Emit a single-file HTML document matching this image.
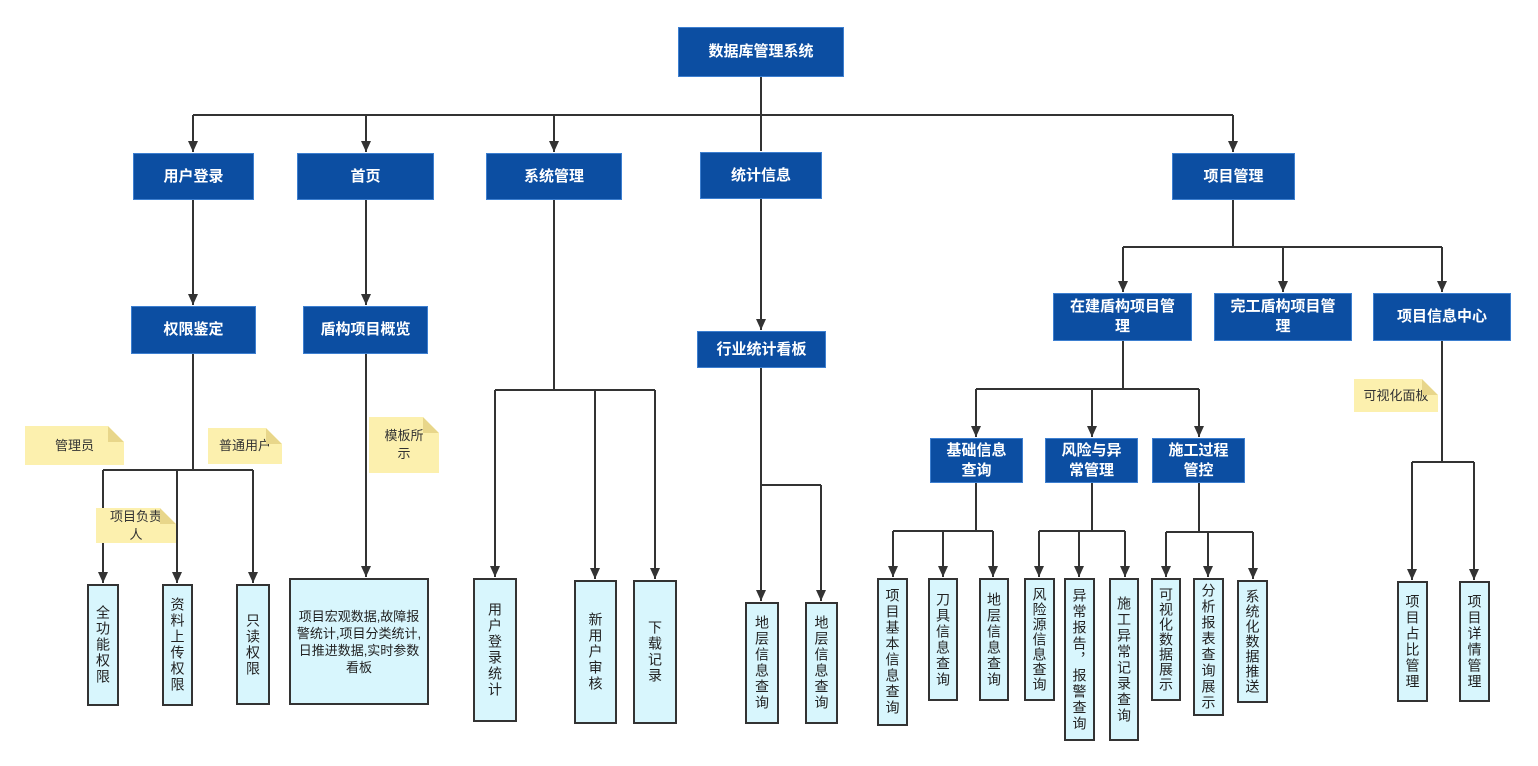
<!DOCTYPE html>
<html><head><meta charset="utf-8"><style>
body{margin:0;width:1538px;height:766px;background:#fff;position:relative;overflow:hidden;font-family:"Liberation Sans","Noto Sans CJK SC",sans-serif}
.b{position:absolute;background:#0c4ea2;color:#fff;font-size:15px;font-weight:bold;display:flex;align-items:center;justify-content:center;text-align:center;line-height:20px;box-sizing:border-box;border:1px solid #3d7fd0}
.l{position:absolute;background:#d8f6fd;border:2px solid #333;box-sizing:border-box;color:#222;font-size:14px;display:flex;align-items:center;justify-content:center}
.v{writing-mode:vertical-rl;line-height:16px;letter-spacing:2px;white-space:nowrap}
.n{position:absolute;background:#fcf0ae;color:#333;font-size:13px;display:flex;align-items:center;justify-content:center;text-align:center;line-height:18px;clip-path:polygon(0 0,calc(100% - 16px) 0,100% 16px,100% 100%,0 100%)}
.n:after{content:"";position:absolute;right:0;top:0;width:16px;height:16px;background:#e8d68a;clip-path:polygon(0 0,0 100%,100% 100%)}
svg{position:absolute;left:0;top:0}
</style></head><body>
<svg width="1538" height="766">
<defs><marker id="a" markerWidth="12" markerHeight="12" refX="11" refY="5" orient="auto" markerUnits="userSpaceOnUse"><path d="M0,0 L11,5 L0,10 z" fill="#333"/></marker></defs>
<g stroke="#333" stroke-width="2" fill="none">
<path d="M761,76V115M193,115H1233M761,115V151"/>
<path d="M193,115V152" marker-end="url(#a)"/>
<path d="M366,115V152" marker-end="url(#a)"/>
<path d="M554,115V152" marker-end="url(#a)"/>
<path d="M1233,115V152" marker-end="url(#a)"/>
<path d="M193,200V305" marker-end="url(#a)"/>
<path d="M366,200V305" marker-end="url(#a)"/>
<path d="M761,199V330" marker-end="url(#a)"/>
<path d="M366,354V577" marker-end="url(#a)"/>
<path d="M193,354V470M103,470H253"/>
<path d="M103,470V583" marker-end="url(#a)"/>
<path d="M177,470V583" marker-end="url(#a)"/>
<path d="M253,470V583" marker-end="url(#a)"/>
<path d="M554,200V390M495,390H655"/>
<path d="M495,390V577" marker-end="url(#a)"/>
<path d="M595,390V579" marker-end="url(#a)"/>
<path d="M655,390V579" marker-end="url(#a)"/>
<path d="M761,368V485H821"/>
<path d="M761,485V601" marker-end="url(#a)"/>
<path d="M821,485V601" marker-end="url(#a)"/>
<path d="M1233,200V247M1123,247H1442"/>
<path d="M1123,247V292" marker-end="url(#a)"/>
<path d="M1283,247V292" marker-end="url(#a)"/>
<path d="M1442,247V292" marker-end="url(#a)"/>
<path d="M1123,341V389M976,389H1199"/>
<path d="M976,389V437" marker-end="url(#a)"/>
<path d="M1092,389V437" marker-end="url(#a)"/>
<path d="M1199,389V437" marker-end="url(#a)"/>
<path d="M1442,341V462M1412,462H1474"/>
<path d="M1412,462V580" marker-end="url(#a)"/>
<path d="M1474,462V580" marker-end="url(#a)"/>
<path d="M976,483V531M893,531H993M1092,483V531M1039,531H1125M1199,483V532M1166,532H1253"/>
<path d="M893,531V577" marker-end="url(#a)"/>
<path d="M943,531V577" marker-end="url(#a)"/>
<path d="M993,531V577" marker-end="url(#a)"/>
<path d="M1039,531V577" marker-end="url(#a)"/>
<path d="M1079,531V577" marker-end="url(#a)"/>
<path d="M1125,531V577" marker-end="url(#a)"/>
<path d="M1166,532V577" marker-end="url(#a)"/>
<path d="M1208,532V577" marker-end="url(#a)"/>
<path d="M1253,532V579" marker-end="url(#a)"/>
</g></svg>
<div class="b" style="left:678px;top:27px;width:166px;height:50px">数据库管理系统</div>
<div class="b" style="left:133px;top:153px;width:121px;height:47px">用户登录</div>
<div class="b" style="left:297px;top:153px;width:137px;height:47px">首页</div>
<div class="b" style="left:486px;top:153px;width:136px;height:47px">系统管理</div>
<div class="b" style="left:700px;top:152px;width:122px;height:47px">统计信息</div>
<div class="b" style="left:1172px;top:153px;width:123px;height:47px">项目管理</div>
<div class="b" style="left:131px;top:306px;width:125px;height:48px">权限鉴定</div>
<div class="b" style="left:303px;top:306px;width:125px;height:48px">盾构项目概览</div>
<div class="b" style="left:697px;top:331px;width:129px;height:37px">行业统计看板</div>
<div class="b" style="left:1053px;top:293px;width:139px;height:48px;padding:0 10px">在建盾构项目管理</div>
<div class="b" style="left:1214px;top:293px;width:138px;height:48px;padding:0 10px">完工盾构项目管理</div>
<div class="b" style="left:1373px;top:293px;width:138px;height:48px">项目信息中心</div>
<div class="b" style="left:930px;top:438px;width:93px;height:45px;padding:0 12px">基础信息查询</div>
<div class="b" style="left:1045px;top:438px;width:93px;height:45px;padding:0 12px">风险与异常管理</div>
<div class="b" style="left:1152px;top:438px;width:93px;height:45px;padding:0 12px">施工过程管控</div>

<div class="l" style="left:87px;top:584px;width:32px;height:122px"><span class="v">全功能权限</span></div>
<div class="l" style="left:162px;top:584px;width:31px;height:122px"><span class="v">资料上传权限</span></div>
<div class="l" style="left:236px;top:584px;width:34px;height:121px"><span class="v">只读权限</span></div>
<div class="l" style="left:289px;top:578px;width:140px;height:127px;font-size:13px;text-align:center;line-height:17px;padding:0 3px">项目宏观数据,故障报警统计,项目分类统计,日推进数据,实时参数看板</div>
<div class="l" style="left:473px;top:578px;width:44px;height:144px"><span class="v">用户登录统计</span></div>
<div class="l" style="left:574px;top:580px;width:43px;height:144px"><span class="v">新用户审核</span></div>
<div class="l" style="left:633px;top:580px;width:44px;height:144px"><span class="v">下载记录</span></div>
<div class="l" style="left:745px;top:602px;width:34px;height:122px"><span class="v">地层信息查询</span></div>
<div class="l" style="left:805px;top:602px;width:33px;height:122px"><span class="v">地层信息查询</span></div>
<div class="l" style="left:877px;top:578px;width:31px;height:148px"><span class="v">项目基本信息查询</span></div>
<div class="l" style="left:928px;top:578px;width:30px;height:123px"><span class="v">刀具信息查询</span></div>
<div class="l" style="left:979px;top:578px;width:30px;height:123px"><span class="v">地层信息查询</span></div>
<div class="l" style="left:1024px;top:578px;width:31px;height:123px"><span class="v" style="letter-spacing:1px">风险源信息查询</span></div>
<div class="l" style="left:1064px;top:578px;width:31px;height:163px"><span class="v">异常报告，报警查询</span></div>
<div class="l" style="left:1109px;top:578px;width:30px;height:163px"><span class="v">施工异常记录查询</span></div>
<div class="l" style="left:1151px;top:578px;width:30px;height:123px"><span class="v" style="letter-spacing:1px">可视化数据展示</span></div>
<div class="l" style="left:1193px;top:578px;width:31px;height:138px"><span class="v">分析报表查询展示</span></div>
<div class="l" style="left:1237px;top:580px;width:31px;height:123px"><span class="v" style="letter-spacing:1px">系统化数据推送</span></div>
<div class="l" style="left:1397px;top:581px;width:31px;height:121px"><span class="v">项目占比管理</span></div>
<div class="l" style="left:1459px;top:581px;width:31px;height:121px"><span class="v">项目详情管理</span></div>

<div class="n" style="left:25px;top:426px;width:99px;height:39px">管理员</div>
<div class="n" style="left:208px;top:428px;width:74px;height:36px">普通用户</div>
<div class="n" style="left:96px;top:508px;width:80px;height:35px">项目负责<br>人</div>
<div class="n" style="left:369px;top:417px;width:70px;height:56px">模板所<br>示</div>
<div class="n" style="left:1354px;top:379px;width:84px;height:33px">可视化面板</div>
</body></html>
